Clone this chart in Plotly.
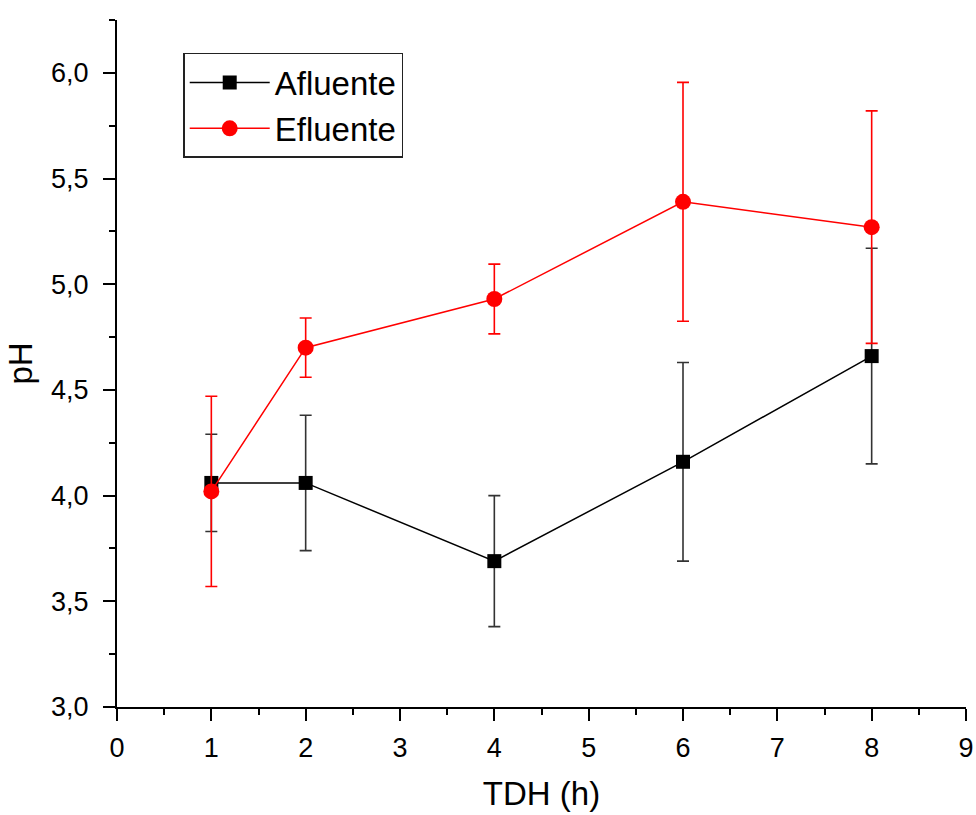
import plotly.graph_objects as go

# Hydraulic retention time (h)
tdh = [1, 2, 4, 6, 8]

# pH of the influent and its standard deviation
afluente_ph = [4.06, 4.06, 3.69, 4.16, 4.66]
afluente_sd = [0.23, 0.32, 0.31, 0.47, 0.51]

# pH of the effluent and its standard deviation
efluente_ph = [4.02, 4.70, 4.93, 5.39, 5.27]
efluente_sd = [0.45, 0.14, 0.165, 0.565, 0.55]

x_ticks = [0, 1, 2, 3, 4, 5, 6, 7, 8, 9]
y_ticks = [3.0, 3.5, 4.0, 4.5, 5.0, 5.5, 6.0]
y_tick_text = [f"{v:.1f}".replace(".", ",") for v in y_ticks]

FONT = "Liberation Sans, Arial, sans-serif"

fig = go.Figure()

fig.add_trace(go.Scatter(
    x=tdh, y=afluente_ph, name="Afluente", mode="lines+markers",
    line=dict(color="black", width=1.5),
    marker=dict(symbol="square", size=14, color="black"),
    error_y=dict(type="data", array=afluente_sd, visible=True,
                 color="#333333", thickness=1.6, width=6),
))

fig.add_trace(go.Scatter(
    x=tdh, y=efluente_ph, name="Efluente", mode="lines+markers",
    line=dict(color="#ff0000", width=1.5),
    marker=dict(symbol="circle", size=16, color="#ff0000"),
    error_y=dict(type="data", array=efluente_sd, visible=True,
                 color="#ff0000", thickness=1.6, width=6),
))

axis_common = dict(
    showline=True, linecolor="black", linewidth=2.2,
    ticks="outside", ticklen=12, tickwidth=2, tickcolor="black",
    showgrid=False, zeroline=False, mirror=False, automargin=False,
    tickfont=dict(family=FONT, size=27, color="black"),
)

fig.update_xaxes(
    range=[0, 9], tickvals=x_ticks, ticktext=[str(v) for v in x_ticks],
    title=dict(text="TDH (h)", font=dict(family=FONT, size=33, color="black"),
               standoff=20),
    minor=dict(ticks="outside", ticklen=6, tickwidth=2, tickcolor="black", dtick=0.5),
    ticklabelstandoff=3,
    **axis_common,
)

fig.update_yaxes(
    range=[3, 6.25], tickvals=y_ticks, ticktext=y_tick_text,
    title=dict(text="pH", font=dict(family=FONT, size=33, color="black"),
               standoff=8),
    minor=dict(ticks="outside", ticklen=6, tickwidth=2, tickcolor="black",
               tick0=3, dtick=0.25),
    ticklabelstandoff=9,
    **axis_common,
)

fig.update_layout(
    width=976, height=815,
    margin=dict(l=117, r=10, t=20, b=108),
    plot_bgcolor="white", paper_bgcolor="white",
    showlegend=True,
    legend=dict(
        x=0.078, y=0.952, xanchor="left", yanchor="top",
        bordercolor="#222222", borderwidth=1.5, bgcolor="white",
        font=dict(family=FONT, size=33, color="black"),
        itemwidth=80, tracegroupgap=0,
    ),
)

fig.write_html("out.html")
